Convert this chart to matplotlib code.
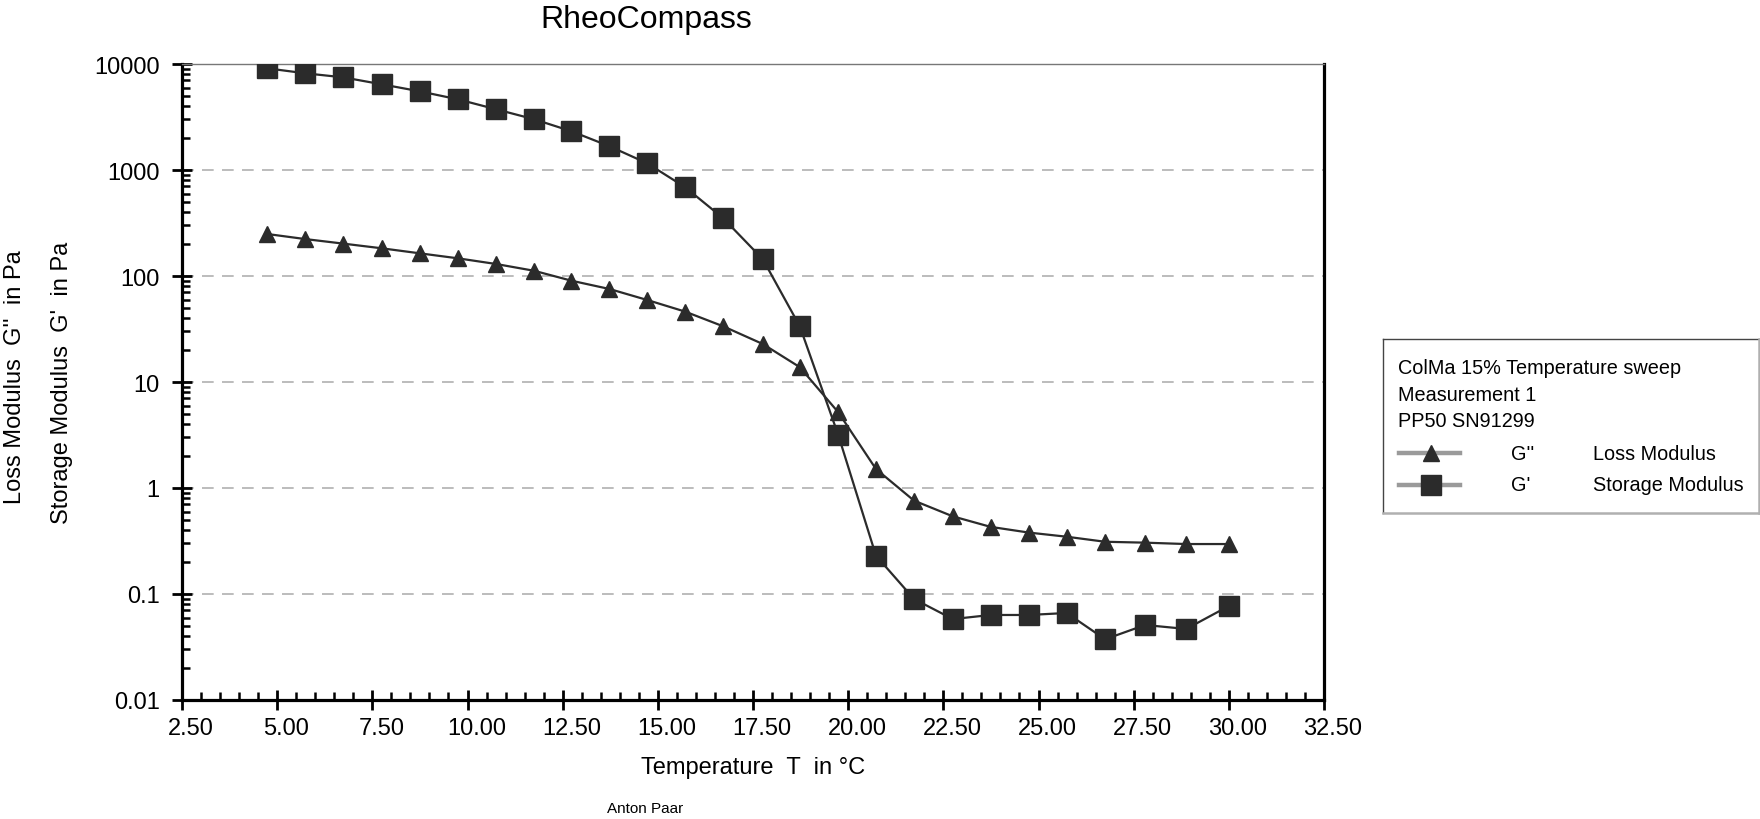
import matplotlib
matplotlib.use('Agg')
import matplotlib.pyplot as plt
from matplotlib.lines import Line2D
from matplotlib.transforms import ScaledTranslation
from matplotlib.ticker import FixedLocator, MultipleLocator, LogLocator, NullFormatter, FixedFormatter

plt.rcParams['font.family'] = ['Liberation Sans', 'DejaVu Sans']

# ---- data ----
temperature = [4.74, 5.74, 6.74, 7.75, 8.75, 9.75, 10.75, 11.75, 12.73, 13.73,
               14.72, 15.72, 16.72, 17.76, 18.73, 19.74, 20.73, 21.73, 22.75,
               23.74, 24.74, 25.74, 26.75, 27.80, 28.88, 30.00]
storage_modulus = [9100, 8170, 7480, 6430, 5520, 4640, 3740, 3010, 2320, 1675,
                   1157, 687, 350, 143.6, 33.5, 3.16, 0.23, 0.0897, 0.058,
                   0.0634, 0.0634, 0.0662, 0.0374, 0.051, 0.0468, 0.077]
loss_modulus = [249, 223, 202, 182.5, 163.6, 146.8, 129.8, 112, 90.3, 75.4,
                59.4, 46.1, 33.5, 22.8, 13.8, 5.18, 1.51, 0.76, 0.54, 0.43,
                0.38, 0.347, 0.311, 0.305, 0.296, 0.296]
xticks = [2.5, 5.0, 7.5, 10.0, 12.5, 15.0, 17.5, 20.0, 22.5, 25.0, 27.5, 30.0, 32.5]
xtick_labels = ['2.50', '5.00', '7.50', '10.00', '12.50', '15.00', '17.50',
                '20.00', '22.50', '25.00', '27.50', '30.00', '32.50']
yticks = [0.01, 0.1, 1, 10, 100, 1000, 10000]
ytick_labels = ['0.01', '0.1', '1', '10', '100', '1000', '10000']
legend_header = ['ColMa 15% Temperature sweep', 'Measurement 1', 'PP50 SN91299']

W, H = 1760, 820
dark = '#2b2b2b'

fig = plt.figure(figsize=(W / 100, H / 100), dpi=100)
L, R, T, B = 182, 1324, 65, 701
ax = fig.add_axes([L / W, 1 - B / H, (R - L) / W, (B - T) / H])

ax.plot(temperature, storage_modulus, color=dark, lw=1.6, marker='s', ms=14.5,
        mfc=dark, mec=dark, zorder=4)
ax.plot(temperature, loss_modulus, color=dark, lw=1.6, marker='^', ms=12,
        mfc=dark, mec=dark, zorder=4)

ax.set_yscale('log')
ax.set_xlim(2.5, 32.5)
ax.set_ylim(0.01, 10000)

ax.xaxis.set_major_locator(FixedLocator(xticks))
ax.xaxis.set_major_formatter(FixedFormatter(xtick_labels))
ax.xaxis.set_minor_locator(MultipleLocator(0.5))
ax.yaxis.set_major_locator(FixedLocator(yticks))
ax.yaxis.set_major_formatter(FixedFormatter(ytick_labels))
ax.yaxis.set_minor_locator(LogLocator(base=10, subs=range(2, 10), numticks=20))
ax.yaxis.set_minor_formatter(NullFormatter())

ax.tick_params(which='major', direction='inout', length=14, width=2.0,
               labelsize=17, color='black')
ax.tick_params(which='minor', direction='in', length=6, width=1.8, color='black')
ax.tick_params(axis='x', which='major', pad=5.5)
ax.tick_params(axis='y', which='major', pad=9)

# x tick labels sit slightly right of their ticks in the reference
shift = ScaledTranslation(9 / 100, 0, fig.dpi_scale_trans)
for lab in ax.get_xticklabels():
    lab.set_transform(lab.get_transform() + shift)

ax.grid(axis='y', which='major', color='#b0b0b0', lw=1.2, ls=(0, (7, 5)))
ax.set_axisbelow(True)

for s in ['left', 'bottom', 'right']:
    ax.spines[s].set_linewidth(2.3)
    ax.spines[s].set_color('black')
ax.spines['top'].set_linewidth(1.0)
ax.spines['top'].set_color('#777777')

# labels
fig.text(646 / W, 1 - 20 / H, 'RheoCompass', ha='center', va='center', fontsize=23)
fig.text(753 / W, 1 - 768 / H, 'Temperature  T  in °C', ha='center', va='center', fontsize=17)
fig.text(15 / W, 1 - 377 / H, "Loss Modulus  G''  in Pa", rotation=90,
         ha='center', va='center', fontsize=17)
fig.text(62 / W, 1 - 383 / H, "Storage Modulus  G'  in Pa", rotation=90,
         ha='center', va='center', fontsize=17)
fig.text(645 / W, 1 - 809 / H, 'Anton Paar', ha='center', va='center', fontsize=11)

# legend box
def fx(px):
    return px / W

def fy(py):
    return 1 - py / H

x0, x1, y0, y1 = 1383, 1759, 340, 514
fig.add_artist(Line2D([fx(x0), fx(x1)], [fy(y0), fy(y0)], color='#444444', lw=1.0))
fig.add_artist(Line2D([fx(x0), fx(x0)], [fy(y0), fy(y1)], color='#444444', lw=1.0))
fig.add_artist(Line2D([fx(x0), fx(x1)], [fy(y1), fy(y1)], color='#b0b0b0', lw=1.8))
fig.add_artist(Line2D([fx(x1), fx(x1)], [fy(y0), fy(y1)], color='#b0b0b0', lw=1.8))

for txt, py in zip(legend_header, [369, 395.5, 421.5]):
    fig.text(fx(1398), fy(py), txt, ha='left', va='center', fontsize=14.3)

rows = [('^', 11, "G''", 'Loss Modulus', 454), ('s', 14, "G'", 'Storage Modulus', 486)]
for mk, ms, sym, name, py in rows:
    fig.add_artist(Line2D([fx(1399), fx(1460)], [fy(py), fy(py)], color='#9a9a9a', lw=3.2))
    fig.add_artist(Line2D([fx(1431)], [fy(py)], marker=mk, ms=ms, color=dark,
                          mfc=dark, mec=dark, lw=0))
    fig.text(fx(1511), fy(py), sym, ha='left', va='center', fontsize=14.3)
    fig.text(fx(1593), fy(py), name, ha='left', va='center', fontsize=14.3)

fig.savefig('out.png', dpi=100, facecolor='white')
